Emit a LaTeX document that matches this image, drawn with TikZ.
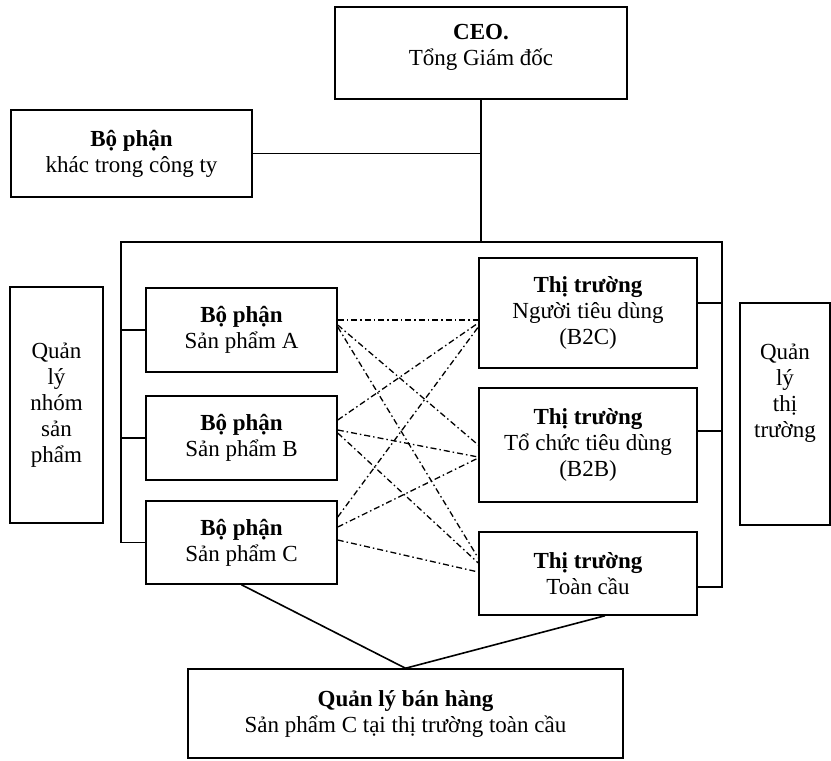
\documentclass[tikz,border=0pt]{standalone}
\usepackage{fontspec}
\setmainfont{Liberation Serif}
\usetikzlibrary{calc}
\tikzset{
  orgbox/.style={draw,line width=1.5pt,inner sep=0pt,align=center,
                 font=\fontsize{23}{26}\selectfont},
  wire/.style={line width=1.6pt},
  mixline/.style={line width=1.3pt,
                  dash pattern=on 6pt off 3pt on 1.5pt off 3pt}
}
\begin{document}
\begin{tikzpicture}[x=1pt,y=-1pt]
    \useasboundingbox (0,0) rectangle (831,761);
    % top of the company
    \node[orgbox,minimum width=292pt,minimum height=92pt] (ceo) at (481,53)
      {\textbf{CEO.}\\Tổng Giám đốc\\[-10pt]};
    \node[orgbox,minimum width=241pt,minimum height=87pt] (other) at (131.5,153.5)
      {\textbf{Bộ phận}\\khác trong công ty};
    % product divisions
    \node[orgbox,minimum width=191pt,minimum height=84pt] (pa) at (241.5,330)
      {\textbf{Bộ phận}\\Sản phẩm A};
    \node[orgbox,minimum width=191pt,minimum height=84pt] (pb) at (241.5,438)
      {\textbf{Bộ phận}\\Sản phẩm B};
    \node[orgbox,minimum width=191pt,minimum height=83pt] (pc) at (241.5,542.5)
      {\textbf{Bộ phận}\\Sản phẩm C};
    % markets
    \node[orgbox,minimum width=218pt,minimum height=110pt] (b2c) at (588,313)
      {\textbf{Thị trường}\\Người tiêu dùng\\(B2C)};
    \node[orgbox,minimum width=218pt,minimum height=114pt] (b2b) at (588,445)
      {\textbf{Thị trường}\\Tổ chức tiêu dùng\\(B2B)};
    \node[orgbox,minimum width=218pt,minimum height=83pt] (glob) at (588,573.5)
      {\textbf{Thị trường}\\Toàn cầu};
    % side labels and sales
    \node[orgbox,minimum width=93pt,minimum height=236pt] (prodmgr) at (56.5,405)
      {Quản\\lý\\nhóm\\sản\\phẩm};
    \node[orgbox,minimum width=90pt,minimum height=222pt] (mktmgr) at (785,414)
      {Quản\\lý\\thị\\trường\\[20pt]};
    \node[orgbox,minimum width=435pt,minimum height=89pt] (sales) at (405.5,713.5)
      {\textbf{Quản lý bán hàng}\\Sản phẩm C tại thị trường toàn cầu};

    % frame round the matrix
    \coordinate (fTL) at (121,242);
    \coordinate (fTR) at (722,242);
    \draw[wire] (ceo.south) -- (ceo.south |- fTL);
    \draw[wire] (other.east) -- (other.east -| ceo.south);
    \draw[wire] (pc.west) -| (fTL) -- (fTR) |- ([yshift=-13.5pt]glob.east);
    \foreach \prod in {pa,pb}
      \draw[wire] (\prod.west) -- (\prod.west -| fTL);
    \foreach \mk/\dy in {b2c/10,b2b/14}{
      \coordinate (stub) at ([yshift=\dy pt]\mk.east);
      \draw[wire] (stub) -- (stub -| fTR);
    }

    % product x market links
    \foreach \src/\sy/\dst/\dy in {pa/10/b2c/-7,pa/5/b2b/0,pa/3/glob/15.5,
                                  pb/18/b2c/-10,pb/8/b2b/-12,pb/5/glob/10.5,
                                  pc/25.5/b2c/-14,pc/15.5/b2b/-13,pc/2.5/glob/1.5}
      \draw[mixline] ([yshift=\sy pt]\src.east) -- ([yshift=\dy pt]\dst.west);

    % sales manager
    \draw[wire] (pc.south) -- (sales.north);
    \draw[wire] ([xshift=17pt]glob.south) -- (sales.north);
\end{tikzpicture}
\end{document}
